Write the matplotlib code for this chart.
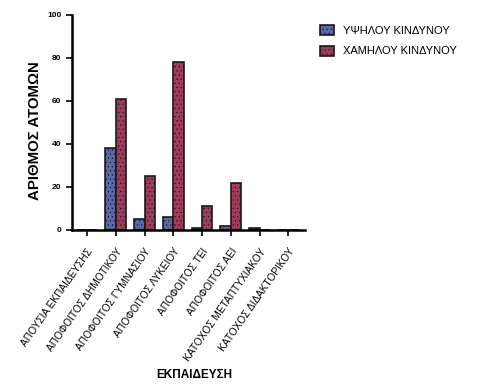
import matplotlib
matplotlib.use("Agg")
import matplotlib.pyplot as plt
import numpy as np

plt.rcParams['font.family'] = ['Liberation Sans', 'DejaVu Sans']
plt.rcParams['hatch.linewidth'] = 0.4

categories = [
    "ΑΠΟΥΣΙΑ ΕΚΠΑΙΔΕΥΣΗΣ",
    "ΑΠΟΦΟΙΤΟΣ ΔΗΜΟΤΙΚΟΥ",
    "ΑΠΟΦΟΙΤΟΣ ΓΥΜΝΑΣΙΟΥ",
    "ΑΠΟΦΟΙΤΟΣ ΛΥΚΕΙΟΥ",
    "ΑΠΟΦΟΙΤΟΣ ΤΕΙ",
    "ΑΠΟΦΟΙΤΟΣ ΑΕΙ",
    "ΚΑΤΟΧΟΣ ΜΕΤΑΠΤΥΧΙΑΚΟΥ",
    "ΚΑΤΟΧΟΣ ΔΙΔΑΚΤΟΡΙΚΟΥ",
]
high_risk = [0, 38, 5, 6, 1, 2, 1, 0]
low_risk = [0, 61, 25, 78, 11, 22, 0, 0]
series_names = ["ΥΨΗΛΟΥ ΚΙΝΔΥΝΟΥ", "ΧΑΜΗΛΟΥ ΚΙΝΔΥΝΟΥ"]
yticks = [0, 20, 40, 60, 80, 100]

fig = plt.figure(figsize=(4.8, 3.91), dpi=100)
ax = fig.add_axes([0.15, 0.412, 0.485, 0.55])

x = np.arange(len(categories))
w = 0.36
b1 = ax.bar(x - w / 2, high_risk, w, color="#5a68ab", edgecolor="#1a1a1a",
            linewidth=1.2, hatch="....", label=series_names[0])
b2 = ax.bar(x + w / 2, low_risk, w, color="#a03c5a", edgecolor="#1a1a1a",
            linewidth=1.2, hatch="....", label=series_names[1])

ax.set_xlim(-0.52, 7.57)
ax.set_ylim(0, 100)
ax.set_yticks(yticks)
ax.set_xticks(x)
ax.set_xticklabels(categories, rotation=55, ha="right", rotation_mode="anchor",
                   fontsize=7.3)
ax.tick_params(axis="both", direction="out", length=4, width=1.2, labelsize=6)
ax.tick_params(axis="x", pad=8, labelsize=7.3)
for lab in ax.get_yticklabels():
    lab.set_fontweight("bold")

for s in ["top", "right"]:
    ax.spines[s].set_visible(False)
for s in ["left", "bottom"]:
    ax.spines[s].set_linewidth(1.8)

ax.set_ylabel("ΑΡΙΘΜΟΣ ΑΤΟΜΩΝ", fontsize=10.8, fontweight="bold")
ax.yaxis.set_label_coords(-0.13, 0.46)
fig.text(0.405, 0.04, "ΕΚΠΑΙΔΕΥΣΗ", fontsize=8.5, fontweight="bold",
         ha="center", va="center")

fig.legend(handles=[b1, b2], loc="upper left", bbox_to_anchor=(0.645, 0.962),
           frameon=False, fontsize=8, handlelength=1.3, handleheight=1.0,
           handletextpad=0.8, labelspacing=0.9)

fig.savefig("out.png", dpi=100)
